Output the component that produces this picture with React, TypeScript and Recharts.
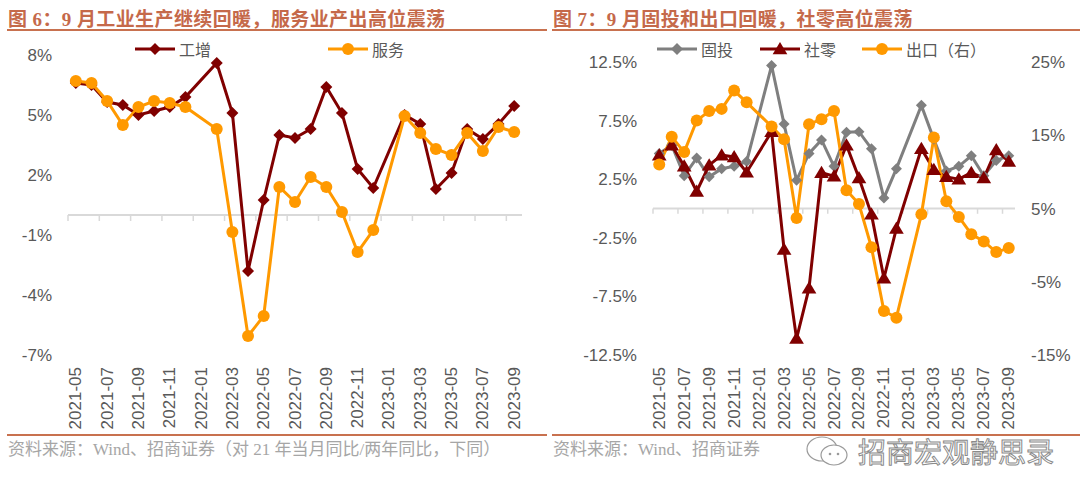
import React from 'react'
import { LineChart, Line, XAxis, YAxis, ReferenceLine, Legend } from 'recharts'

const months = [
  '2021-05', '2021-06', '2021-07', '2021-08', '2021-09', '2021-10', '2021-11', '2021-12',
  '2022-01', '2022-02', '2022-03', '2022-04', '2022-05', '2022-06', '2022-07', '2022-08',
  '2022-09', '2022-10', '2022-11', '2022-12', '2023-01', '2023-02', '2023-03', '2023-04',
  '2023-05', '2023-06', '2023-07', '2023-08', '2023-09',
]

// 图6
const industry = [
  6.6, 6.5, 5.65, 5.5, 5.0, 5.2, 5.4, 5.9, null, 7.6, 5.1, -2.8, 0.75, 4.0, 3.85,
  4.3, 6.4, 5.1, 2.3, 1.35, null, 5.0, 4.55, 1.3, 2.1, 4.3, 3.8, 4.55, 5.45,
]
const services = [
  6.7, 6.6, 5.7, 4.5, 5.4, 5.7, 5.6, 5.4, null, 4.3, -0.85, -6.05, -5.05, 1.4, 0.65,
  1.9, 1.4, 0.15, -1.85, -0.75, null, 4.95, 4.1, 3.3, 3.0, 4.1, 3.2, 4.4, 4.15,
]
const fig6Ticks = [8, 5, 2, -1, -4, -7]

// 图7
const fai = [
  4.7, 5.4, 2.8, 4.3, 2.7, 3.4, 3.6, 4.0, null, 12.2, 7.2, 2.4, 4.7, 5.85, 3.6,
  6.5, 6.55, 5.1, 0.9, 3.4, null, 8.8, 5.9, 3.2, 3.6, 4.5, 2.8, 4.1, 4.5,
]
const retail = [
  4.55, 5.4, 3.6, 1.45, 3.7, 4.55, 4.4, 3.1, null, 6.55, -3.5, -11.1, -6.8, 3.05, 2.75,
  5.4, 2.6, -0.5, -5.95, -1.7, null, 5.1, 3.3, 2.7, 2.5, 3.05, 2.6, 5.0, 4.0,
]
const exportsYoy = [
  11.0, 14.8, 12.7, 17.0, 18.3, 18.6, 21.1, 19.5, null, 16.2, 14.45, 3.7, 16.5, 17.2, 18.3,
  7.5, 5.6, -0.3, -9.0, -9.9, null, 4.2, 14.7, 6.0, 3.85, 1.5, 0.5, -0.95, -0.4,
]
const fig7LeftTicks = [12.5, 7.5, 2.5, -2.5, -7.5, -12.5]
const fig7RightTicks = [25, 15, 5, -5, -15]

const fig6Data = months.map((m, i) => ({ month: m, ind: industry[i], serv: services[i] }))
const fig7Data = months.map((m, i) => ({ month: m, fai: fai[i], retail: retail[i], exp: exportsYoy[i] }))
const markCats = months.filter((_, i) => i % 2 === 0)

const DARK = '#800000'
const ORANGE = '#FF9900'
const GRAY = '#7F7F7F'
const AXIS = '#D9D9D9'
const TXT = '#595959'
const BRICK = '#C5694A'
const SANS = '"Liberation Sans", Arial, sans-serif'
const CJK = '"Noto Sans CJK SC", sans-serif'
const SERIF = '"Liberation Serif", "Noto Sans CJK SC", serif'

const diamond = (cx: number, cy: number, r: number) =>
  `M${cx},${cy - r}L${cx + r},${cy}L${cx},${cy + r}L${cx - r},${cy}Z`
const triangle = (cx: number, cy: number, r: number) =>
  `M${cx},${cy - r}L${cx + r * 1.05},${cy + r * 0.75}L${cx - r * 1.05},${cy + r * 0.75}Z`

function makeDot(kind: string, color: string) {
  return (p: any) => {
    const { cx, cy, index } = p
    const key = `${kind}-${index}`
    if (cx == null || cy == null) return <g key={key} />
    if (kind === 'circle') return <circle key={key} cx={cx} cy={cy} r={6} fill={color} />
    if (kind === 'triangle') return <path key={key} d={triangle(cx, cy, 7)} fill={color} />
    return <path key={key} d={diamond(cx, cy, kind === 'diamondS' ? 5.5 : 6)} fill={color} />
  }
}

const markerKind: Record<string, string> = {
  ind: 'diamond', serv: 'circle', fai: 'diamondS', retail: 'triangle', exp: 'circle',
}

function MonthTick(props: any) {
  const { x, y, payload } = props
  const ty = y + 12
  return (
    <text x={x} y={ty} transform={`rotate(-90 ${x} ${ty})`} textAnchor="end"
      dominantBaseline="central" fontSize={17} fill={TXT} fontFamily={SANS}>
      {payload.value}
    </text>
  )
}

// legend items placed in series order, not sorted by name
function LegendRow({ payload, xs, order }: any) {
  const items = order.map((k: string) => (payload || []).find((it: any) => it.dataKey === k)).filter(Boolean)
  return (
    <div style={{ position: 'relative', height: 24 }}>
      {items.map((item: any, i: number) => {
        const kind = markerKind[item.dataKey]
        const c = item.color
        return (
          <div key={item.dataKey} style={{ position: 'absolute', left: xs[i], top: 0, display: 'flex', alignItems: 'center', height: 24 }}>
            <svg width={40} height={16}>
              <line x1={0} y1={8} x2={40} y2={8} stroke={c} strokeWidth={3} />
              {kind === 'circle' && <circle cx={20} cy={8} r={6} fill={c} />}
              {kind === 'triangle' && <path d={triangle(20, 8, 7)} fill={c} />}
              {(kind === 'diamond' || kind === 'diamondS') && <path d={diamond(20, 8, 6)} fill={c} />}
            </svg>
            <span style={{ marginLeft: 4, fontSize: 16, color: TXT, fontFamily: CJK, whiteSpace: 'nowrap' }}>{item.value}</span>
          </div>
        )
      })}
    </div>
  )
}

const yTick = { fill: TXT, fontSize: 17, fontFamily: SANS }

function Fig6() {
  return (
    <LineChart width={540} height={440} data={fig6Data} margin={{ top: 55, right: 18, bottom: 5, left: 8 }}>
      <XAxis dataKey="month" scale="band" interval={1} tickLine={false} axisLine={false}
        tickSize={0} tickMargin={0} height={80} tick={<MonthTick />} />
      <YAxis domain={[-7, 8]} ticks={fig6Ticks} tickFormatter={(v: number) => `${v}%`} width={60}
        tickLine={false} axisLine={false} tickSize={0} tickMargin={16} tick={yTick} />
      <ReferenceLine y={0} stroke={AXIS} strokeWidth={2} />
      {markCats.map((m) => (
        <ReferenceLine key={m} segment={[{ x: m, y: 0 }, { x: m, y: -0.3 }]} position="start" stroke={AXIS} strokeWidth={1.5} />
      ))}
      <Line dataKey="ind" name="工增" stroke={DARK} strokeWidth={3} dot={makeDot('diamond', DARK)}
        connectNulls isAnimationActive={false} activeDot={false} />
      <Line dataKey="serv" name="服务" stroke={ORANGE} strokeWidth={3} dot={makeDot('circle', ORANGE)}
        connectNulls isAnimationActive={false} activeDot={false} />
      <Legend layout="horizontal" verticalAlign="middle" align="center"
        wrapperStyle={{ top: 37, left: 0, width: 540, height: 24 }}
        content={(p: any) => <LegendRow payload={p.payload} xs={[135, 328]} order={['ind', 'serv']} />} />
    </LineChart>
  )
}

function Fig7() {
  return (
    <LineChart width={540} height={440} data={fig7Data} margin={{ top: 62, right: 5, bottom: 5, left: 8 }}>
      <XAxis dataKey="month" scale="band" interval={1} tickLine={false} axisLine={false}
        tickSize={0} tickMargin={0} height={80} tick={<MonthTick />} />
      <YAxis yAxisId="l" domain={[-12.5, 12.5]} ticks={fig7LeftTicks} tickFormatter={(v: number) => `${v.toFixed(1)}%`}
        width={105} tickLine={false} axisLine={false} tickSize={0} tickMargin={16} tick={yTick} />
      <YAxis yAxisId="r" orientation="right" domain={[-15, 25]} ticks={fig7RightTicks} tickFormatter={(v: number) => `${v}%`}
        width={60} tickLine={false} axisLine={false} tickSize={0} tickMargin={16} tick={yTick} />
      <ReferenceLine yAxisId="l" y={0} stroke={AXIS} strokeWidth={2} />
      {markCats.map((m) => (
        <ReferenceLine key={m} yAxisId="l" segment={[{ x: m, y: 0 }, { x: m, y: -0.45 }]} position="start" stroke={AXIS} strokeWidth={1.5} />
      ))}
      <Line yAxisId="l" dataKey="fai" name="固投" stroke={GRAY} strokeWidth={3} dot={makeDot('diamondS', GRAY)}
        connectNulls isAnimationActive={false} activeDot={false} />
      <Line yAxisId="l" dataKey="retail" name="社零" stroke={DARK} strokeWidth={3} dot={makeDot('triangle', DARK)}
        connectNulls isAnimationActive={false} activeDot={false} />
      <Line yAxisId="r" dataKey="exp" name="出口（右）" stroke={ORANGE} strokeWidth={3} dot={makeDot('circle', ORANGE)}
        connectNulls isAnimationActive={false} activeDot={false} />
      <Legend layout="horizontal" verticalAlign="middle" align="center"
        wrapperStyle={{ top: 37, left: 0, width: 540, height: 24 }}
        content={(p: any) => <LegendRow payload={p.payload} xs={[117, 220, 322]} order={['fai', 'retail', 'exp']} />} />
    </LineChart>
  )
}

const titleStyle: React.CSSProperties = {
  position: 'absolute', top: 4, fontSize: 19, fontWeight: 700, color: BRICK, fontFamily: SERIF,
  whiteSpace: 'nowrap', letterSpacing: 0.4,
}
const rule = (left: number, width: number, top: number): React.CSSProperties => ({
  position: 'absolute', left, width, top, height: 2, background: '#C8714F',
})
const footStyle: React.CSSProperties = {
  position: 'absolute', top: 435, fontSize: 17, color: '#A6A6A6', fontFamily: SERIF, whiteSpace: 'nowrap',
}

export default function App() {
  return (
    <div style={{ position: 'absolute', left: 0, top: 0, width: 1080, height: 496, background: '#fff', overflow: 'hidden' }}>
      <div style={{ ...titleStyle, left: 8 }}>图 6：9 月工业生产继续回暖，服务业产出高位震荡</div>
      <div style={{ ...titleStyle, left: 553 }}>图 7：9 月固投和出口回暖，社零高位震荡</div>
      <div style={rule(7, 540, 29)} />
      <div style={rule(552, 528, 29)} />
      <div style={{ position: 'absolute', left: 0, top: 0 }}><Fig6 /></div>
      <div style={{ position: 'absolute', left: 540, top: 0 }}><Fig7 /></div>
      <div style={rule(7, 540, 434)} />
      <div style={rule(552, 528, 434)} />
      <div style={{ ...footStyle, left: 8 }}>资料来源：Wind、招商证券（对 21 年当月同比/两年同比，下同）</div>
      <div style={{ ...footStyle, left: 553 }}>资料来源：Wind、招商证券</div>
      <svg style={{ position: 'absolute', left: 800, top: 432 }} width={270} height={40}>
        <ellipse cx={22} cy={17} rx={15} ry={12} fill="#fff" stroke="#9a9a9a" strokeWidth={1.2} />
        <ellipse cx={34} cy={23} rx={13} ry={10} fill="#fff" stroke="#9a9a9a" strokeWidth={1.2} />
        <circle cx={30} cy={22} r={1.3} fill="#9a9a9a" />
        <circle cx={38} cy={22} r={1.3} fill="#9a9a9a" />
        <text x={58} y={31} fontSize={28} fontFamily={CJK} fill="#fff" stroke="#8a8a8a" strokeWidth={1}>招商宏观静思录</text>
      </svg>
    </div>
  )
}
